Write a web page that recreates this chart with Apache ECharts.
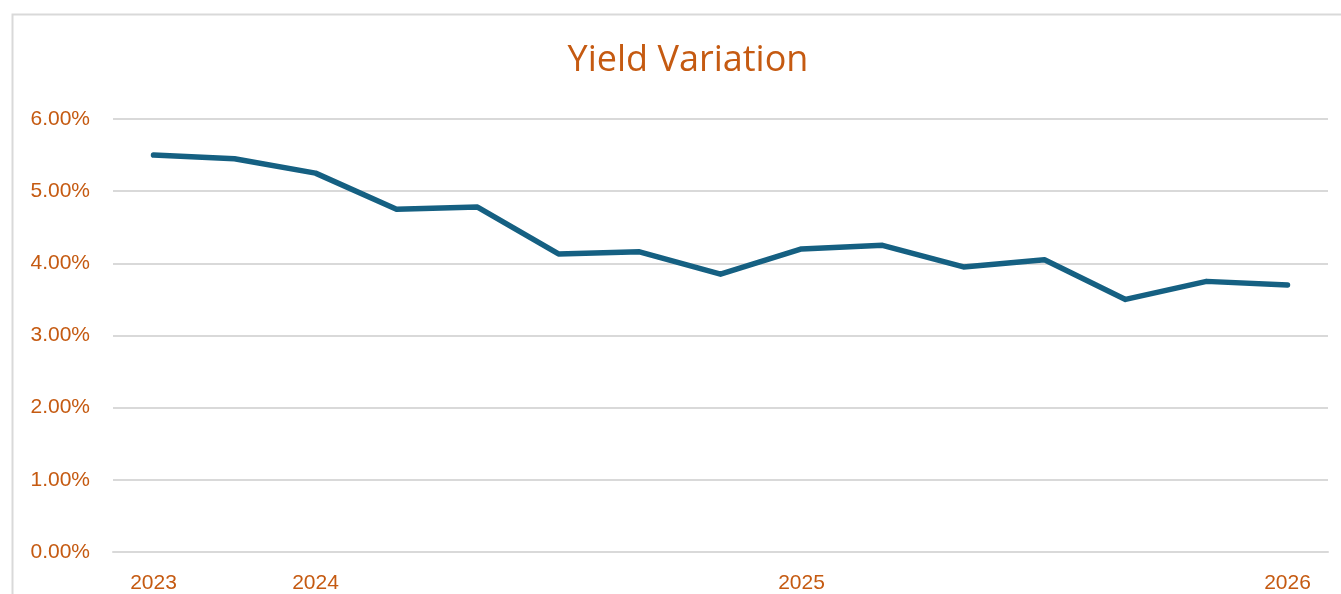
<!DOCTYPE html>
<html>
<head>
<meta charset="utf-8">
<title>Yield Variation</title>
<script src="https://cdn.jsdelivr.net/npm/echarts@6/dist/echarts.min.js"></script>
<style>
  html, body { margin: 0; padding: 0; background: #fff; overflow: hidden; }
  #chart { width: 1341px; height: 594px; }
</style>
</head>
<body>
<div id="chart"></div>
<script>
// periods along the x axis (only a few carry a year label)
const periods = ['p1', 'p2', 'p3', 'p4', 'p5', 'p6', 'p7', 'p8', 'p9', 'p10', 'p11', 'p12', 'p13', 'p14', 'p15']
const tickLabels = ['2023', '', '2024', '', '', '', '', '', '2025', '', '', '', '', '', '2026']
// yield in percent
const yieldValues = [5.50, 5.45, 5.25, 4.75, 4.78, 4.13, 4.16, 3.85, 4.20, 4.25, 3.95, 4.05, 3.50, 3.75, 3.70]

const orange = '#C55A11'
const chart = echarts.init(document.getElementById('chart'))

const option = {
  backgroundColor: '#fff',
  animation: false,
  title: {
    text: 'Yield Variation',
    left: 683,
    top: 38,
    textAlign: 'center',
    textStyle: {
      color: orange,
      fontFamily: 'Open Sans',
      fontWeight: 'normal',
      fontSize: 36
    }
  },
  graphic: [
    {
      type: 'rect',
      shape: { x: 12.5, y: 14.5, width: 1400, height: 700 },
      style: { fill: 'none', stroke: '#d9d9d9', lineWidth: 2 },
      silent: true
    }
  ],
  grid: {
    left: 113,
    right: 13,
    top: 119,
    bottom: 41
  },
  xAxis: {
    type: 'category',
    data: periods,
    boundaryGap: true,
    axisLine: { show: true, lineStyle: { color: '#d9d9d9', width: 2 } },
    axisTick: { show: false },
    axisLabel: {
      interval: 0,
      margin: 21,
      color: orange,
      fontFamily: 'Liberation Sans',
      fontSize: 21,
      formatter: (v, i) => tickLabels[i]
    },
    splitLine: { show: false }
  },
  yAxis: {
    type: 'value',
    min: 0,
    max: 6,
    interval: 1,
    axisLine: { show: false },
    axisTick: { show: false },
    axisLabel: {
      margin: 23,
      color: orange,
      fontFamily: 'Liberation Sans',
      fontSize: 21,
      formatter: v => v.toFixed(2) + '%'
    },
    splitLine: { lineStyle: { color: '#d9d9d9', width: 2 } }
  },
  series: [
    {
      name: 'Yield',
      type: 'line',
      data: yieldValues,
      showSymbol: false,
      lineStyle: { color: '#156082', width: 5.5, cap: 'round', join: 'round' },
      itemStyle: { color: '#156082' }
    }
  ]
}

chart.setOption(option)

window.addEventListener('resize', () => {
  chart.resize()
})
</script>
</body>
</html>
